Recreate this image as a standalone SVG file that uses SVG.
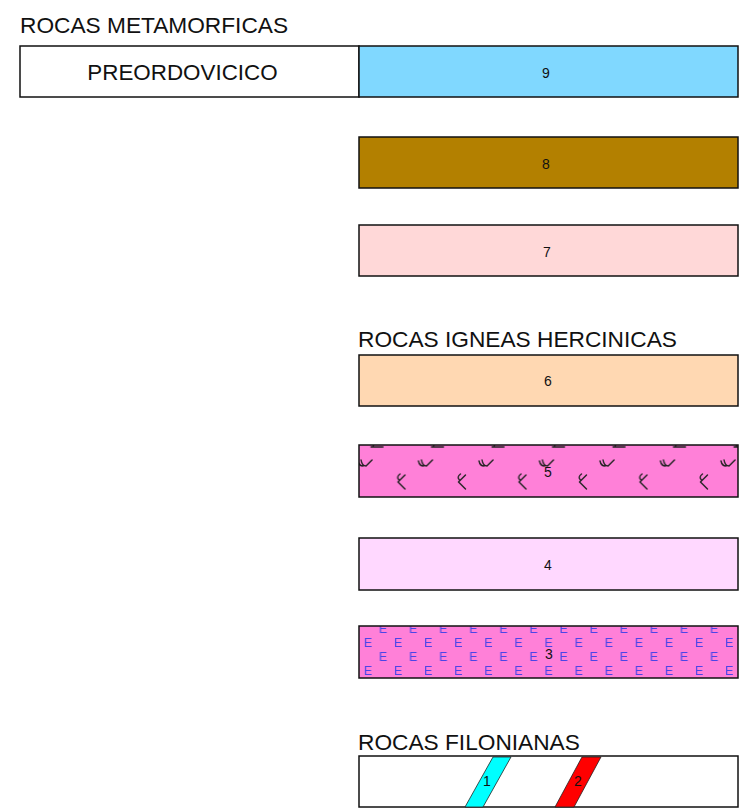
<svg xmlns="http://www.w3.org/2000/svg" width="740" height="810" viewBox="0 0 740 810">
<style>
.box{stroke:#111;stroke-width:1.5}
.title{font-family:"Liberation Sans",Arial,sans-serif;font-size:22.7px;fill:#111}
.num{font-family:"Liberation Sans",Arial,sans-serif;font-size:14px;fill:#111;text-anchor:middle}
.sym{fill:none;stroke:#222;stroke-width:1.4;stroke-linecap:round;stroke-linejoin:round}
.e{font-family:"Liberation Sans",Arial,sans-serif;font-size:12.5px;fill:#4a44e8;text-anchor:middle}
.dike{stroke:#222;stroke-width:0.8}
</style>
<defs>
<pattern id="p5" patternUnits="userSpaceOnUse" x="350" y="440" width="60.5" height="60">
<rect width="60.5" height="60" fill="#ff80d8"/>
<path class="sym" transform="translate(27,6)" d="M-6,1 H6 M-4,1 L-3,-4"/>
<path class="sym" transform="translate(15,24)" d="M-7,-3 Q-6,2 -2,2 M-4,-4 Q-3,2 1,2 L7,-4"/>
<path class="sym" transform="translate(50,42)" d="M5,-7 L-2,0 L5,7 M0,-8 Q-4,-5 -1,-2"/>
</pattern>
<pattern id="p3" patternUnits="userSpaceOnUse" x="360" y="634" width="30.1" height="28">
<rect width="30.1" height="28" fill="#ff80d8"/>
<text class="e" x="8" y="12.5">E</text>
<text class="e" x="23" y="26.5">E</text>
<text class="e" x="23" y="-1.5">E</text>
</pattern>
</defs>

<text class="title" x="20" y="33">ROCAS METAMORFICAS</text>
<text class="title" x="358" y="347">ROCAS IGNEAS HERCINICAS</text>
<text class="title" x="358" y="750">ROCAS FILONIANAS</text>

<g id="preordovicico">
<rect class="box" x="20" y="46" width="339" height="51" fill="#ffffff"/>
<text x="182.5" y="80" font-family="'Liberation Sans',Arial,sans-serif" font-size="22.4" fill="#111" text-anchor="middle">PREORDOVICICO</text>
</g>
<g id="n9">
<rect class="box" x="359" y="46" width="379" height="51" fill="#80d8ff"/>
<text class="num" x="546" y="78">9</text>
</g>
<g id="n8">
<rect class="box" x="359" y="137" width="379" height="51" fill="#b38000"/>
<text class="num" x="546" y="169">8</text>
</g>
<g id="n7">
<rect class="box" x="359" y="225" width="379" height="51" fill="#ffd8d8"/>
<text class="num" x="547" y="257">7</text>
</g>
<g id="n6">
<rect class="box" x="359" y="355" width="379" height="51" fill="#ffd8b2"/>
<text class="num" x="548" y="386">6</text>
</g>
<g id="n5">
<rect class="box" x="359" y="445" width="379" height="52" fill="url(#p5)"/>
<text class="num" x="548" y="477">5</text>
</g>
<g id="n4">
<rect class="box" x="359" y="538" width="379" height="52" fill="#ffd8ff"/>
<text class="num" x="548" y="570">4</text>
</g>
<g id="n3">
<rect class="box" x="359" y="626" width="379" height="52" fill="url(#p3)"/>
<text class="num" x="549" y="659">3</text>
</g>
<g id="filonianas">
<rect class="box" x="359" y="756" width="379" height="51" fill="#ffffff"/>
<g id="n1">
<polygon class="dike" points="465,807 483,807 511,757 493,757" fill="#00ffff"/>
<text class="num" x="487" y="786">1</text>
</g>
<g id="n2">
<polygon class="dike" points="555,807 574,807 601,757 582,757" fill="#ff0000"/>
<text class="num" x="578" y="786">2</text>
</g>
</g>
<g id="connectors"></g>
</svg>
